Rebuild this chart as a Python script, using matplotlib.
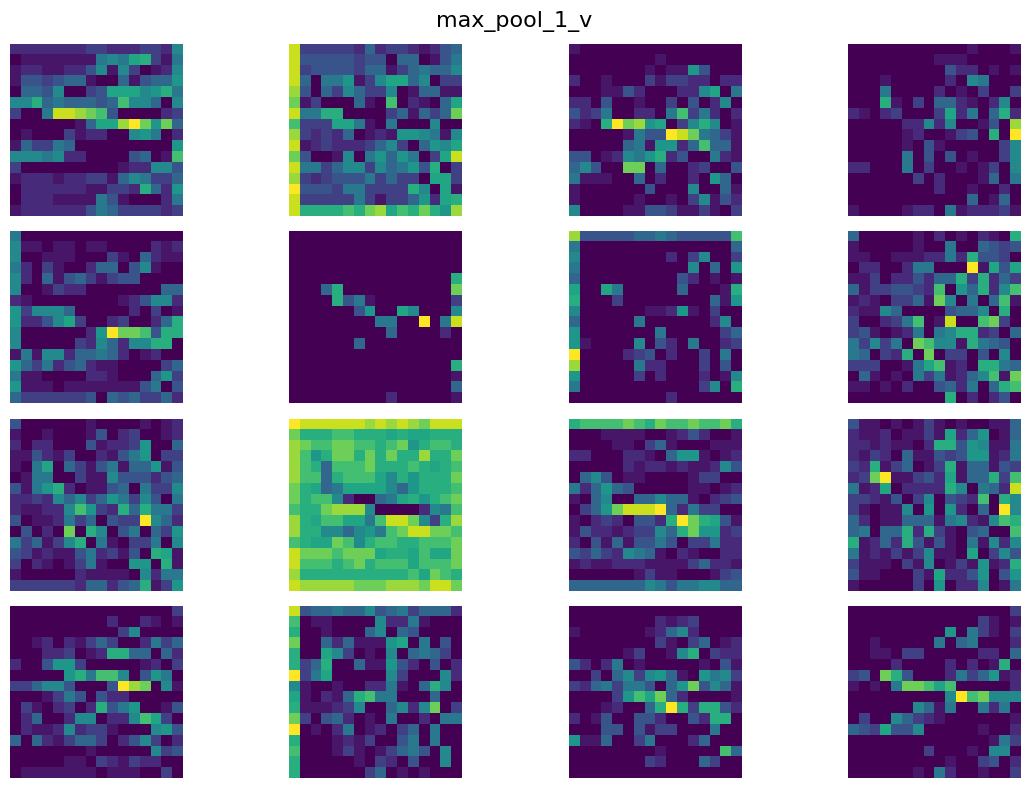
#!/usr/bin/env python3
"""Feature maps of max_pool_1_v, 16 channels of 16x16 cells.

Cell values are read off the picture, one hex digit per cell (0 to f).
"""

import numpy as np
import matplotlib
matplotlib.use('Agg')
import matplotlib.pyplot as plt

title = 'max_pool_1_v'

# activation for each hex digit
digit_levels = [0.0, 0.06, 0.12, 0.19, 0.26, 0.33, 0.40, 0.47,
                0.53, 0.59, 0.63, 0.70, 0.78, 0.85, 0.92, 1.0]

map_00 = ["2222222332223327", "011111116769a316", "1221122471730127", "1443455100514558",
          "05547003499978a6", "77a5655545b77507", "3006eedcb4000023", "0000001599dfc8c5",
          "0100031220078602", "1533650000000008", "777672200004501b", "3000000000122774",
          "1222122331576335", "022222211332a528", "0222111164100026", "1222222465333323"]
map_01 = ["e333332523321245", "e444443440550146", "e344443551356557", "e506681379957033",
          "d405375337015511", "c13000510b021059", "e66aa0000351535c", "b333996106000700",
          "d323250121887617", "e123222357305879", "c40017068586039e", "e663577375684a03",
          "d323444635330993", "f4443663333a7091", "e33333631335829a", "eaaaabacd9baca8d"]
map_02 = ["1000000000000000", "0000000010000000", "0000000101184000", "2001000313322022",
          "0001142000227906", "2204001003040270", "4236002206b36202", "210afcd89037a701",
          "000001644fec6531", "000005618825b551", "44012768a2400621", "57400cc050023004",
          "6111005020020850", "1000000400070051", "1000001001037142", "7000011443113103"]
map_03 = ["0000000000010001", "0000000011100000", "0000000004220101", "0001000002076000",
          "0006000020103003", "000a103055210270", "21023000392605a2", "000002272700140d",
          "0000012001340a0f", "0000010410000037", "0000060404010037", "2200060300101307",
          "0000003020001506", "0000000020010020", "0000000000050150", "1000012206122231"]
map_04 = ["6000000000000000", "7110110110000212", "7001110003105211", "6203100255047100",
          "7205145313440000", "7001322000000055", "2100000000124772", "8377750000020301",
          "822479300230025a", "700000028fccb4aa", "7000003275277aa0", "1617725565201200",
          "8536245211000035", "6110000221000583", "8111011111114604", "5333333405453352"]
map_05 = ["0000000000000000", "0000000000000000", "0000000000000000", "0000000000000000",
          "000000000000000a", "0005a0000000000c", "0000a46100000003", "0000004800970007",
          "000000006600f06e", "0000000005000020", "0000005000000000", "0000000000000000",
          "000000000000000a", "0000000000000001", "0000000000000005", "0000000002000001"]
map_06 = ["d44444556544444b", "6000000000000005", "7000000002037003", "6000000000070508",
          "5000000000420101", "900960000050001a", "a000300000000518", "7000000112810300",
          "5000006000000270", "8000000060000035", "8100007042060023", "f000023402003060",
          "d000006220003040", "8000003020002017", "600000000000370a", "0000000002000000"]
map_07 = ["500000102010210a", "1000001006005434", "11001112262a4430", "02200266000f1949",
          "1130224255a3a253", "51334432b085a27b", "12103351c70605b1", "21175000045570a0",
          "300236b01e00bc30", "3410126067aa2305", "637360cb771a6540", "65032a0c03304070",
          "33300169b120aa65", "0510106361257b1c", "11010200452605ab", "000000000a020240"]
map_08 = ["4000000100001012", "1001000140230012", "2022000412238005", "1142130021468033",
          "1069053146155814", "0166003117444245", "4168a20114506337", "2232757358637406",
          "211227b832a5a663", "401126350433f752", "04020c0a70460538", "635137a061033607",
          "4312114623140a91", "30210136100880a1", "1000002111107266", "333333255245a138"]
map_09 = ["feeeeeedededceee", "caaabbaaa9a99aaa", "dcbbccbbabc8abba", "db8accacacaadaac",
          "dba5bbbcaaaba9ab", "dbb5abbb97a8aaac", "ca9569999758aaab", "cabb7200569a8abc",
          "baacddd70000276b", "da9bb996beec73ad", "daa775786bceeccb", "ba99cb7abbaabbbc",
          "ecccbccc9aa9b99c", "ebbbabcabbb9bbbc", "daaaaaaaaaab9cba", "edddddcccdddceec"]
map_10 = ["abbbbcbacbbcbbca", "0001111001242001", "0000110351000111", "2200022105881012",
          "0000021221211274", "0574011000013300", "6258540000011012", "1057005575510234",
          "0358ceeef5263300", "102320442afca941", "1422123375ac8823", "2041514464033622",
          "4353276510210022", "1211222111135221", "0000001311000134", "5555555764667755"]
map_11 = ["4110101310100115", "2112011319258015", "22121102aa487116", "2132051143488126",
          "32a135013a155143", "23cf113429155a3b", "612902222a70652e", "332140370432b0a7",
          "31011708082050f7", "52011555167217ba", "56055a2a3104500b", "a1252a4141061727",
          "6121313711090374", "311103170131812a", "4110003192248048", "1000003080227016"]
map_12 = ["0000000000000003", "0000000002002101", "0000000000370000", "0012021353002635",
          "000223012aa55052", "2004883000001203", "000008a6bb704860", "3357740004fdc071",
          "0001364042200000", "03102302a4680014", "025002770227b930", "0211272331000784",
          "5052135530247302", "0000000100000734", "0000011032132200", "0111111101110030"]
map_13 = ["e455655745635552", "b011000072261000", "a001000570540000", "c005251118906040",
          "a009730107056530", "a35a005118420402", "f369000007300072", "7100100226105a70",
          "910215ab66000500", "a111237005727c03", "c304520106002066", "f010260120350600",
          "a000121300460600", "b000131013564070", "a000001032040070", "a000000350101000"]
map_14 = ["0000000000000000", "0000000021230000", "1000000125720000", "0000000031035012",
          "00000130017a0322", "4202601000001041", "0030573785108673", "32563664058c4751",
          "000038b9c5200001", "00012005afa3aa42", "2014004420042aa0", "0004404133000600",
          "8115003600025000", "00000000100000b5", "0000000320005300", "0000000000000000"]
map_15 = ["0000000000000003", "0000000000003101", "0000000008063103", "0010000060560002",
          "0011033000002205", "00002000020201a0", "340ca40002635812", "10106ccb9b000002",
          "0000000007fbc777", "0000007516006260", "0300753210000001", "5439447000001002",
          "0000000000000163", "0000000300010770", "0000000001003402", "0000001062001003"]

feature_maps = [map_00, map_01, map_02, map_03, map_04, map_05, map_06, map_07,
                map_08, map_09, map_10, map_11, map_12, map_13, map_14, map_15]


def decode(rows):
    """Turn rows of hex digits into a 2D array"""
    return np.array([[digit_levels[int(c, 16)] for c in row] for row in rows])


fig, axes = plt.subplots(4, 4, figsize=(10.29, 7.88), dpi=100)
for ax, rows in zip(axes.flat, feature_maps):
    ax.imshow(decode(rows), cmap='viridis', vmin=0, vmax=1)
    ax.axis('off')

fig.suptitle(title, fontsize=16, y=0.9855)
fig.subplots_adjust(left=9.5/1029, right=1020.5/1029, top=1-44/788, bottom=1-778/788,
                    wspace=106/173, hspace=15.3/172.7)
fig.savefig('out.png', dpi=100)
